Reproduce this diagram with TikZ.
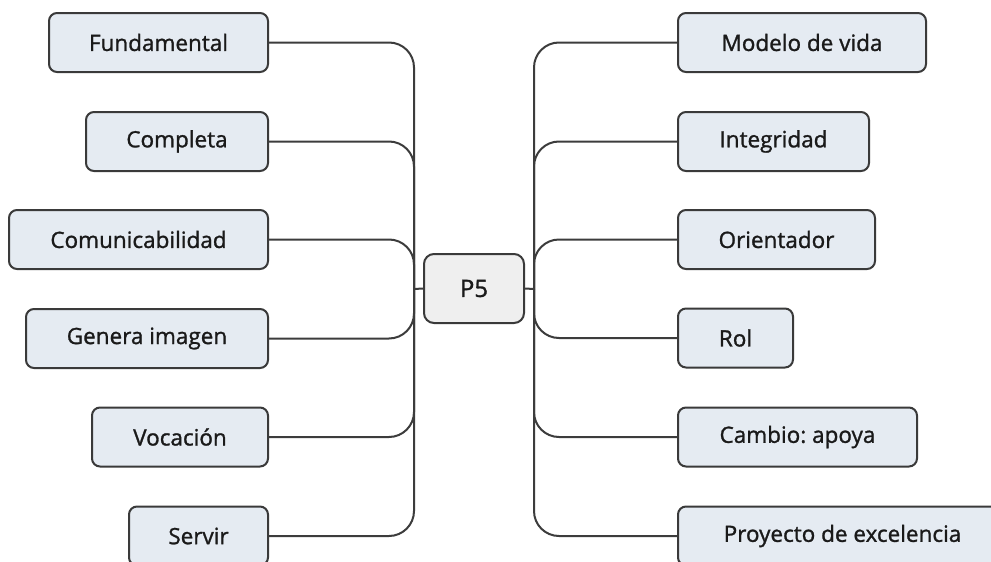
\documentclass[tikz,border=0pt]{standalone}
\usepackage{fontspec}
\setmainfont{Open Sans}
\newfontfamily\leaffont{Open Sans}[FakeBold=1.2]
\frenchspacing
\definecolor{leafcol}{HTML}{E5EBF2}
\definecolor{rootcol}{HTML}{EFEFEF}
\definecolor{bordercol}{HTML}{3A3A3A}
\definecolor{linecol}{HTML}{3C3C3C}
\definecolor{textcol}{HTML}{1A1A1A}
\tikzset{
  leaf/.style={draw=bordercol, line width=2pt, fill=leafcol, rounded corners=8pt,
    minimum height=59pt, inner sep=0pt, text=textcol,
    font=\leaffont\fontsize{22.5}{26}\selectfont},
  rootbox/.style={leaf, fill=rootcol, rounded corners=10pt, minimum height=69pt,
    minimum width=100pt, font=\leaffont\fontsize{24}{28}\selectfont},
  conn/.style={draw=linecol, line width=2pt, rounded corners=25pt},
}
\begin{document}
\begin{tikzpicture}[x=1pt,y=-1pt]
\path[use as bounding box] (0,0) rectangle (991,562);
\clip (0,0) rectangle (991,562);
\fill[white] (0,0) rectangle (991,562);

\coordinate (lt) at (414,289);
\coordinate (rt) at (534,289);

\node[rootbox] (p5) at (474,288.5) {P5};

\node[leaf, minimum width=219pt] (fund) at (158.5,42.5) {Fundamental};
\node[leaf, minimum width=182pt] (comp) at (177,141.5) {Completa};
\node[leaf, minimum width=259pt] (comu) at (138.5,239.5) {Comunicabilidad};
\node[leaf, minimum width=242pt] (gene) at (147,338.5) {Genera imagen};
\node[leaf, minimum width=176pt] (voca) at (180,437) {Vocación};
\node[leaf, minimum width=139pt] (serv) at (198.5,536) {Servir};

\node[leaf, minimum width=248pt] (mode) at (802,42.5) {Modelo de vida};
\node[leaf, minimum width=191pt] (inte) at (773.5,141.5) {Integridad};
\node[leaf, minimum width=197pt] (orie) at (776.5,239.5) {Orientador};
\node[leaf, minimum width=115pt] (rol) at (735.5,338) {Rol};
\node[leaf, minimum width=239pt] (camb) at (797.5,437) {Cambio: apoya};
\node[leaf, minimum width=329pt] (proy) at (842.5,536) {Proyecto de excelencia};

\foreach \n in {fund,comp,comu,gene,voca,serv}{
  \draw[conn] (\n.east) -| (lt);
}
\foreach \n in {mode,inte,orie,rol,camb,proy}{
  \draw[conn] (rt) |- (\n.west);
}
\draw[conn] (lt) -- (p5.west);
\draw[conn] (p5.east) -- (rt);
\end{tikzpicture}
\end{document}
